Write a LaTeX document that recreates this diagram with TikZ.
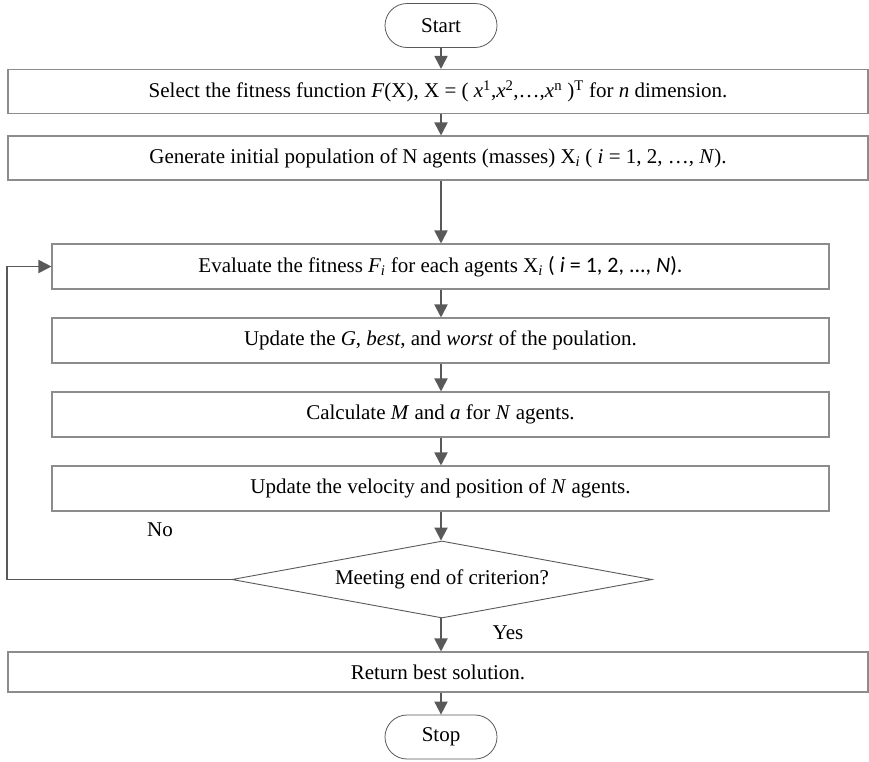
\documentclass[tikz,border=0pt]{standalone}
\usepackage{fontspec}
\setmainfont{Liberation Serif}
\newfontfamily\calfont{Carlito}
\usetikzlibrary{shapes.geometric,shapes.misc,arrows.meta}
\definecolor{boxline}{HTML}{8C8C8C}
\definecolor{arrowcol}{HTML}{595959}
\tikzset{
  procbox/.style={draw=boxline, line width=1.1pt, rectangle, inner sep=0pt, minimum height=44pt, font=\fontsize{21}{25}\selectfont},
  termbox/.style={draw=arrowcol, line width=0.8pt, rounded rectangle, inner sep=0pt, minimum width=112pt, minimum height=44pt, font=\fontsize{21}{25}\selectfont},
  decbox/.style={draw=arrowcol, line width=0.9pt, diamond, aspect=5.45, inner sep=0pt, minimum width=420pt, minimum height=77pt, font=\fontsize{21}{25}\selectfont},
  flow/.style={draw=arrowcol, line width=1.9pt, -{Triangle[length=13pt,width=13pt]}},
  lbl/.style={font=\fontsize{21}{25}\selectfont, inner sep=0pt}
}
\begin{document}
\begin{tikzpicture}[x=1pt,y=-1pt]
\useasboundingbox (0,0) rectangle (869,761);
\node[termbox] (start) at (441,25.5) {Start};
\node[procbox, minimum width=860pt] (b1) at (438,91.5) {Select the fitness function \textit{F}(X), X = ( \textit{x}\textsuperscript{1},\textit{x}\textsuperscript{2},\ldots,\textit{x}\textsuperscript{n} )\textsuperscript{T} for \textit{n} dimension.};
\node[procbox, minimum width=860pt] (b2) at (438,158) {Generate initial population of N agents (masses) X\textsubscript{\textit{i}} ( \textit{i} = 1, 2, \ldots, \textit{N}).};
\node[procbox, minimum width=777pt, minimum height=45pt] (b3) at (440.5,266.5) {Evaluate the fitness \textit{F\textsubscript{i}} for each agents X\textsubscript{\textit{i}} {\calfont\fontsize{22}{26}\selectfont( \textit{i} = 1, 2, ..., \textit{N}).}};
\node[procbox, minimum width=777pt, minimum height=45pt] (b4) at (440.5,340.5) {Update the \textit{G}, \textit{best}, and \textit{worst} of the poulation.};
\node[procbox, minimum width=777pt, minimum height=45pt] (b5) at (440.5,414.5) {Calculate \textit{M} and \textit{a} for \textit{N} agents.};
\node[procbox, minimum width=777pt, minimum height=45pt] (b6) at (440.5,488.5) {Update the velocity and position of \textit{N} agents.};
\node[decbox] (dec) at (442,579.5) {Meeting end of criterion?};
\node[procbox, minimum width=860pt, minimum height=40pt] (b7) at (438,672) {Return best solution.};
\node[termbox] (stop) at (441,737) {Stop};
\coordinate (fbcorner) at (7,579.5);
\coordinate (fbtop) at (7,266.5);
\node[lbl] (no) at (160,530) {No};
\node[lbl] (yes) at (508,633) {Yes};
\draw[flow] (start.south) -- (start.south |- b1.north);
\draw[flow] (start.south |- b1.south) -- (start.south |- b2.north);
\draw[flow] (start.south |- b2.south) -- (start.south |- b3.north);
\draw[flow] (start.south |- b3.south) -- (start.south |- b4.north);
\draw[flow] (start.south |- b4.south) -- (start.south |- b5.north);
\draw[flow] (start.south |- b5.south) -- (start.south |- b6.north);
\draw[flow] (start.south |- b6.south) -- (start.south |- dec.north);
\draw[flow] (start.south |- dec.south) -- (start.south |- b7.north);
\draw[flow] (start.south |- b7.south) -- (stop.north);
\draw[flow] (dec.west) -- (fbcorner) -- (fbtop) -- (b3.west);
\end{tikzpicture}
\end{document}
